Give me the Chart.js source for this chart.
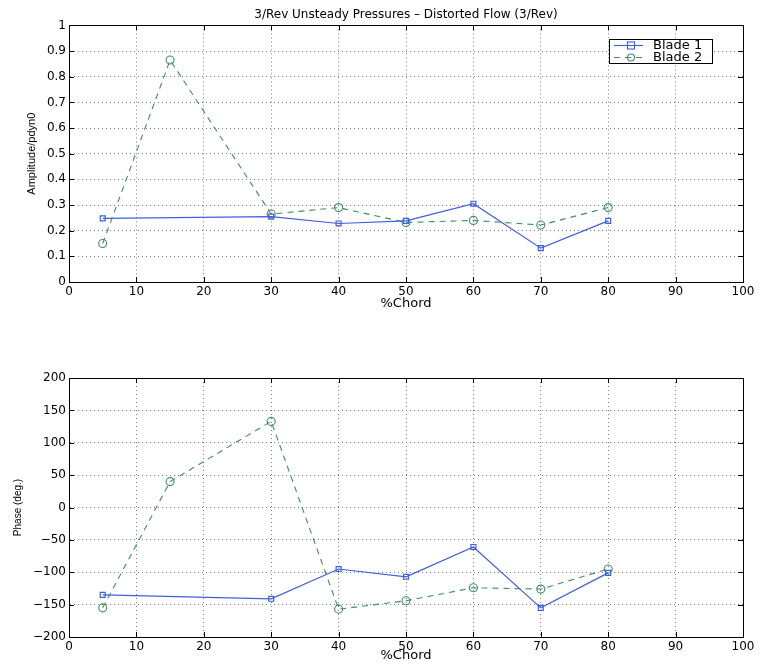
<!DOCTYPE html>
<html>
<head>
<meta charset="utf-8">
<script src="https://cdn.jsdelivr.net/npm/chart.js@4"></script>
<style>
  html, body { margin: 0; padding: 0; background: #fff; }
  body { position: relative; width: 759px; height: 664px; overflow: hidden; }
  canvas { position: absolute; left: 0; }
  #ampChart { top: 0; }
  #phaseChart { top: 330px; }
</style>
</head>
<body>
<canvas id="ampChart" width="759" height="312"></canvas>
<canvas id="phaseChart" width="759" height="334"></canvas>
<script>
// --- data: 3/rev unsteady pressures, distorted flow ---
const CHORD_B1 = [5, 30, 40, 50, 60, 70, 80];
const CHORD_B2 = [5, 15, 30, 40, 50, 60, 70, 80];

const AMP_B1 = [0.248, 0.255, 0.228, 0.238, 0.305, 0.132, 0.238];
const AMP_B2 = [0.150, 0.865, 0.265, 0.290, 0.232, 0.240, 0.222, 0.290];

const PHASE_B1 = [-135, -141, -95, -107, -61, -155, -101];
const PHASE_B2 = [-155, 40, 133, -157, -144, -124, -126, -95];

const X_TICKS = [0, 10, 20, 30, 40, 50, 60, 70, 80, 90, 100];
const AMP_TICKS = [0, 0.1, 0.2, 0.3, 0.4, 0.5, 0.6, 0.7, 0.8, 0.9, 1];
const PHASE_TICKS = [-200, -150, -100, -50, 0, 50, 100, 150, 200];
const SERIES_NAMES = ['Blade 1', 'Blade 2'];

const BLUE = '#3f5fe0';
const GREEN = '#3f8f62';
const SANS = "'Liberation Sans', Arial, sans-serif";
const WIDE = "'DejaVu Sans', Verdana, sans-serif";

Chart.defaults.font.family = WIDE;
Chart.defaults.color = '#000';

function pts(xs, ys) {
    return xs.map((x, i) => ({ x: x, y: ys[i] }));
}

// frame + inward tick marks, matlab style
const frameTicks = {
    id: 'frameTicks',
    afterDraw(chart) {
        const { ctx, chartArea: a, scales } = chart;
        ctx.save();
        ctx.strokeStyle = '#000';
        ctx.lineWidth = 1;
        ctx.setLineDash([]);
        ctx.beginPath();
        scales.x.ticks.forEach(t => {
            const px = Math.round(scales.x.getPixelForValue(t.value)) + 0.5;
            ctx.moveTo(px, a.bottom); ctx.lineTo(px, a.bottom - 5);
            ctx.moveTo(px, a.top); ctx.lineTo(px, a.top + 5);
        });
        scales.y.ticks.forEach(t => {
            const py = Math.round(scales.y.getPixelForValue(t.value)) + 0.5;
            ctx.moveTo(a.left, py); ctx.lineTo(a.left + 5, py);
            ctx.moveTo(a.right, py); ctx.lineTo(a.right - 5, py);
        });
        ctx.stroke();
        ctx.strokeRect(Math.round(a.left) + 0.5, Math.round(a.top) + 0.5,
            Math.round(a.right - a.left), Math.round(a.bottom - a.top));
        ctx.restore();
    }
};

// boxed legend in the upper right of the amplitude plot
const boxLegend = {
    id: 'boxLegend',
    afterDraw(chart) {
        const ctx = chart.ctx;
        const x0 = 609, y0 = 39, w = 103, h = 24;
        ctx.save();
        ctx.fillStyle = '#fff';
        ctx.fillRect(x0, y0, w, h);
        ctx.strokeStyle = '#000';
        ctx.lineWidth = 1;
        ctx.strokeRect(x0 + 0.5, y0 + 0.5, w, h);
        chart.data.datasets.forEach((ds, i) => {
            const cy = y0 + 6 + i * 12;
            ctx.strokeStyle = ds.borderColor;
            ctx.lineWidth = 1.1;
            ctx.setLineDash(ds.borderDash || []);
            ctx.beginPath();
            ctx.moveTo(x0 + 5, cy + 0.5);
            ctx.lineTo(x0 + 34, cy + 0.5);
            ctx.stroke();
            ctx.setLineDash([]);
            if (ds.pointStyle === 'rect') {
                ctx.strokeRect(x0 + 18.5, cy - 3, 7, 7);
            } else {
                ctx.beginPath();
                ctx.arc(x0 + 22, cy + 0.5, 3.5, 0, Math.PI * 2);
                ctx.stroke();
            }
            ctx.fillStyle = '#000';
            ctx.font = '13px ' + WIDE;
            ctx.textBaseline = 'middle';
            ctx.fillText(SERIES_NAMES[i], x0 + 44, cy + 1);
        });
        ctx.restore();
    }
};

function makeDatasets(b1, b2) {
    return [
        {
            label: SERIES_NAMES[0], data: pts(CHORD_B1, b1),
            borderColor: BLUE, backgroundColor: 'rgba(0,0,0,0)', borderWidth: 1.2,
            pointStyle: 'rect', pointRadius: 3.5, pointBorderWidth: 1.2,
            pointBorderColor: BLUE, pointBackgroundColor: 'rgba(0,0,0,0)', tension: 0
        },
        {
            label: SERIES_NAMES[1], data: pts(CHORD_B2, b2),
            borderColor: GREEN, backgroundColor: 'rgba(0,0,0,0)', borderWidth: 1.1,
            borderDash: [6, 5],
            pointStyle: 'circle', pointRadius: 4, pointBorderWidth: 1.1,
            pointBorderColor: GREEN, pointBackgroundColor: 'rgba(0,0,0,0)', tension: 0
        }
    ];
}

const fmtTick = v => (v < 0 ? '\u2212' + String(-v) : String(v));

function makeOptions(cfg) {
    return {
        responsive: false,
        animation: false,
        layout: { padding: { left: 0, right: 16, top: cfg.padTop, bottom: 0 } },
        plugins: {
            legend: { display: false },
            tooltip: { enabled: false },
            title: cfg.title ? {
                display: true, text: cfg.title, color: '#000', fullSize: false,
                font: { size: 12, weight: 'normal' }, padding: { top: 8, bottom: 3 }
            } : { display: false }
        },
        scales: {
            x: {
                type: 'linear', min: 0, max: 100,
                afterBuildTicks: s => { s.ticks = X_TICKS.map(v => ({ value: v })); },
                afterFit: s => { s.height = cfg.xHeight; },
                grid: { color: '#7a7a7a', lineWidth: 1, drawTicks: false },
                border: { display: true, color: '#000', dash: [1, 3] },
                ticks: { padding: 3, font: { size: 12 }, maxRotation: 0, autoSkip: false },
                title: { display: true, text: '%Chord', font: { size: 13 }, padding: { top: 0, bottom: 1 } }
            },
            y: {
                type: 'linear', min: cfg.yMin, max: cfg.yMax,
                afterBuildTicks: s => { s.ticks = cfg.yTicks.map(v => ({ value: v })); },
                afterFit: s => { s.width = 69; },
                grid: { color: '#7a7a7a', lineWidth: 1, drawTicks: false },
                border: { display: true, color: '#000', dash: [1, 3] },
                ticks: { padding: 3, font: { size: 12 }, autoSkip: false, callback: fmtTick },
                title: { display: true, text: cfg.yTitle, font: { size: cfg.yTitleSize, family: SANS },
                         padding: { top: cfg.yTitlePad, bottom: 0 } }
            }
        }
    };
}

new Chart(document.getElementById('ampChart'), {
    type: 'line',
    data: { datasets: makeDatasets(AMP_B1, AMP_B2) },
    options: makeOptions({
        title: '3/Rev Unsteady Pressures \u2013 Distorted Flow (3/Rev)',
        padTop: 0, xHeight: 30, yMin: 0, yMax: 1,
        yTicks: AMP_TICKS, yTitle: 'Amplitude/pdyn0', yTitleSize: 11, yTitlePad: 25
    }),
    plugins: [frameTicks, boxLegend]
});

new Chart(document.getElementById('phaseChart'), {
    type: 'line',
    data: { datasets: makeDatasets(PHASE_B1, PHASE_B2) },
    options: makeOptions({
        title: null, padTop: 48, xHeight: 27, yMin: -200, yMax: 200,
        yTicks: PHASE_TICKS, yTitle: 'Phase (deg.)', yTitleSize: 10, yTitlePad: 12
    }),
    plugins: [frameTicks]
});
</script>
</body>
</html>
